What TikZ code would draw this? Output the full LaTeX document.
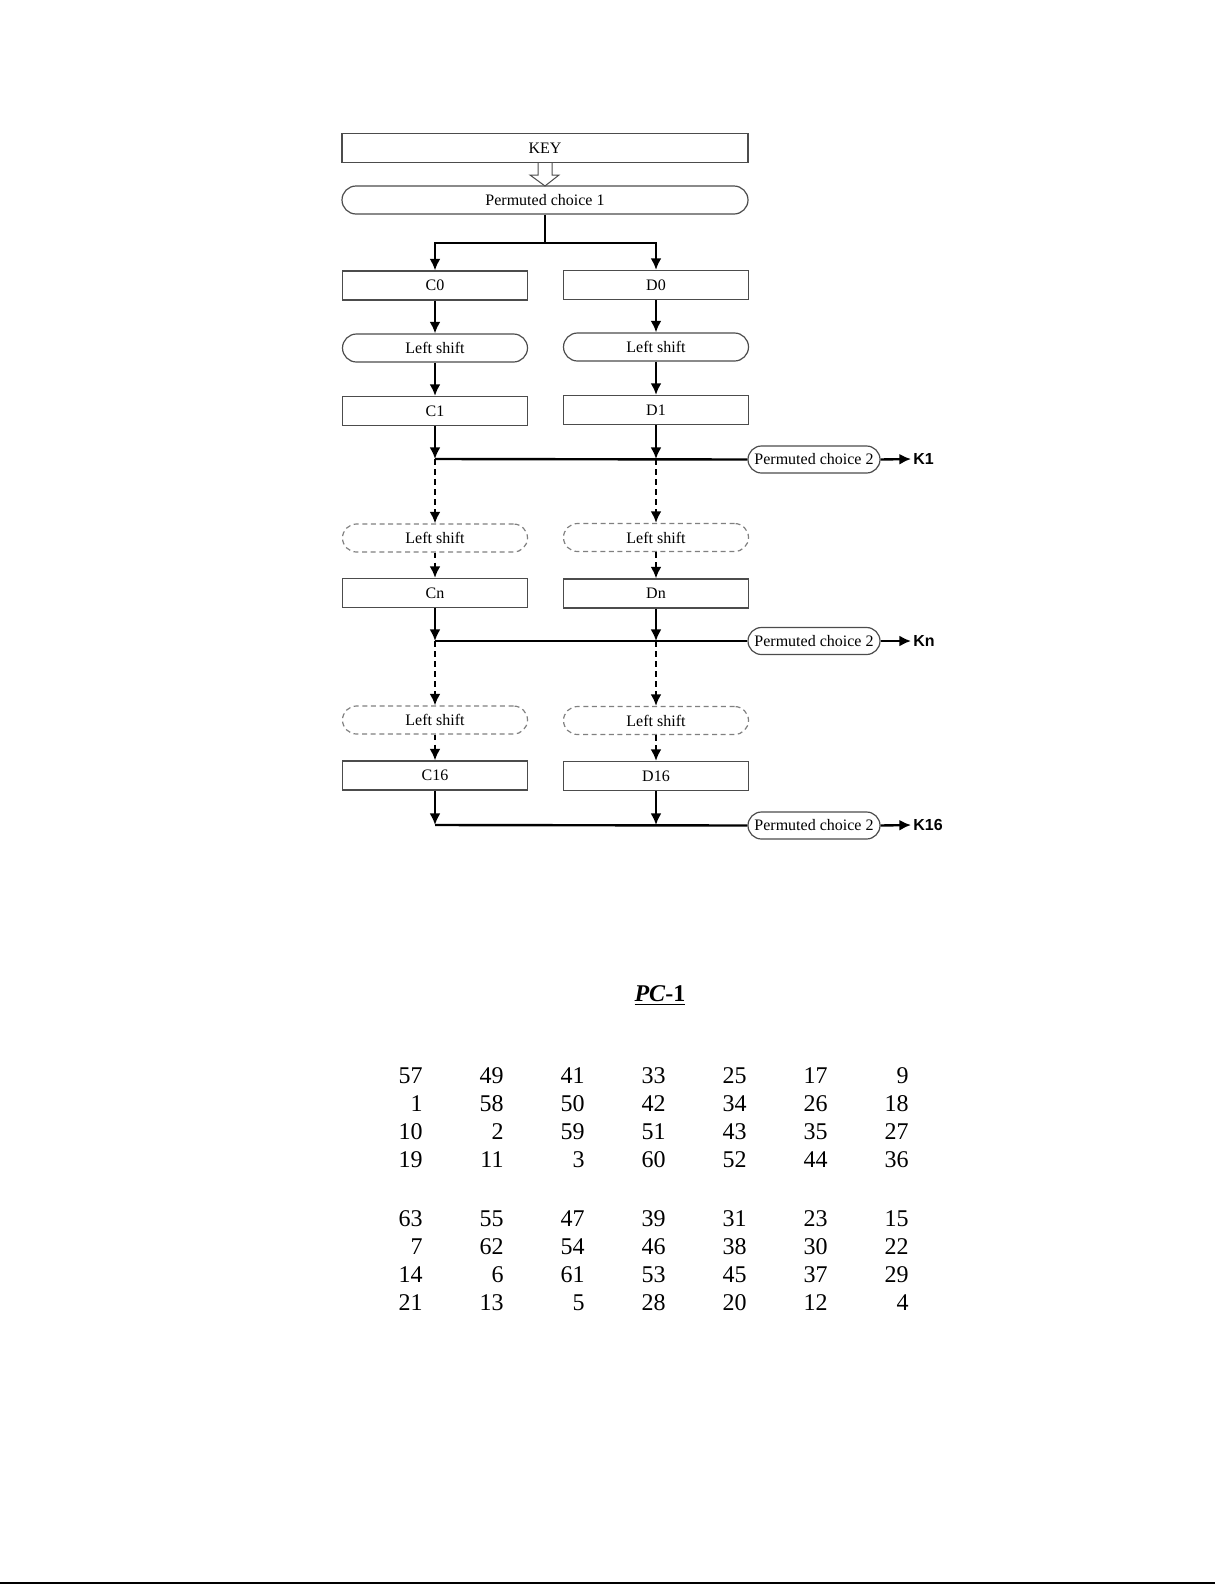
\documentclass[tikz,border=0pt]{standalone}
\usepackage{fontspec}
\setmainfont{Liberation Serif}
\setsansfont{Liberation Sans}
\usepackage{tikz}
\usetikzlibrary{arrows.meta}

\begin{document}
\begin{tikzpicture}[x=0.5pt,y=-0.5pt,
		box/.style={draw=black!70,line width=0.6pt,minimum width=92.5pt,minimum height=14.5pt,inner sep=0pt,font=\fontsize{8}{9}\selectfont},
		roundbox/.style={box,minimum height=14pt,rounded corners=7pt},
		dashbox/.style={roundbox,draw=black!50,dash pattern=on 2.5pt off 1.8pt},
		pcbox/.style={box,minimum width=66pt,minimum height=13.5pt,rounded corners=6.75pt},
		flow/.style={line width=1.2pt,-{Latex[length=5.8pt,width=5.5pt]}},
		dotflow/.style={flow,dash pattern=on 2.8pt off 2.2pt},
		bus/.style={line width=1.2pt},
		klabel/.style={anchor=west,inner sep=1pt,font=\sffamily\bfseries\fontsize{8}{9}\selectfont},
		num/.style={anchor=base east,inner sep=0pt,font=\fontsize{12}{14}\selectfont}]
		\useasboundingbox (0,0) rectangle (1225,1585);
		
		% key schedule
		\node[box,minimum width=203pt] (key) at (545,148) {KEY};
		\node[roundbox,minimum width=203pt] (pc1) at (545,200) {Permuted choice 1};
		\draw[draw=black!70,fill=white,line width=0.5pt] (538,163) -- (538,175) -- (530,175) -- (545,186) -- (559,175) -- (552,175) -- (552,163);
		
		\node[box] (c0) at (435,285.5) {C0};
		\node[box] (d0) at (656,285) {D0};
		\draw[bus] (pc1.south) -- (545,243) coordinate (split);
		\draw[flow] (split) -| (c0.north);
		\draw[flow] (split) -| (d0.north);
		
		\node[roundbox] (lsc1) at (435,348) {Left shift};
		\node[roundbox] (lsd1) at (656,347) {Left shift};
		\node[box] (c1) at (435,411) {C1};
		\node[box] (d1) at (656,410) {D1};
		\draw[flow] (c0) -- (lsc1);
		\draw[flow] (d0) -- (lsd1);
		\draw[flow] (lsc1) -- (c1);
		\draw[flow] (lsd1) -- (d1);
		
		\coordinate (jc1) at (435,459);
		\coordinate (jd1) at (656,459);
		\node[pcbox] (pc2a) at (814,459.5) {Permuted choice 2};
		\node[klabel] (k1) at (911,459) {K1};
		\draw[flow] (c1) -- (jc1);
		\draw[flow] (d1) -- (jd1);
		\draw[bus] (jc1) -- (pc2a.west);
		\draw[flow] (pc2a.east) -- (k1.west);
		
		% n-th round
		\node[dashbox] (lsc2) at (435,538) {Left shift};
		\node[dashbox] (lsd2) at (656,537.5) {Left shift};
		\node[box] (cn) at (435,593) {Cn};
		\node[box] (dn) at (656,593.5) {Dn};
		\draw[dotflow] (jc1) -- (lsc2.north);
		\draw[dotflow] (jd1) -- (lsd2.north);
		\draw[dotflow] (lsc2) -- (cn);
		\draw[dotflow] (lsd2) -- (dn);
		
		\coordinate (jc2) at (435,641);
		\coordinate (jd2) at (656,641);
		\node[pcbox] (pc2b) at (814,641) {Permuted choice 2};
		\node[klabel] (kn) at (911,641) {Kn};
		\draw[flow] (cn) -- (jc2);
		\draw[flow] (dn) -- (jd2);
		\draw[bus] (jc2) -- (pc2b.west);
		\draw[flow] (pc2b.east) -- (kn.west);
		
		% last round
		\node[dashbox] (lsc3) at (435,720) {Left shift};
		\node[dashbox] (lsd3) at (656,720.5) {Left shift};
		\node[box] (c16) at (435,775.5) {C16};
		\node[box] (d16) at (656,776) {D16};
		\draw[dotflow] (jc2) -- (lsc3.north);
		\draw[dotflow] (jd2) -- (lsd3.north);
		\draw[dotflow] (lsc3) -- (c16);
		\draw[dotflow] (lsd3) -- (d16);
		
		\coordinate (jc3) at (435,825);
		\coordinate (jd3) at (656,825);
		\node[pcbox] (pc2c) at (814,825.5) {Permuted choice 2};
		\node[klabel] (k16) at (911,825) {K16};
		\draw[flow] (c16) -- (jc3);
		\draw[flow] (d16) -- (jd3);
		\draw[bus] (jc3) -- (pc2c.west);
		\draw[flow] (pc2c.east) -- (k16.west);
		
		% PC-1 table
		\node[anchor=base,inner sep=0pt,font=\bfseries\fontsize{12}{14}\selectfont] (pctitle) at (660,1001) {\underline{\textit{PC}-1}};
		\foreach \row [count=\r] in {{57,49,41,33,25,17,9},{1,58,50,42,34,26,18},{10,2,59,51,43,35,27},{19,11,3,60,52,44,36},{63,55,47,39,31,23,15},{7,62,54,46,38,30,22},{14,6,61,53,45,37,29},{21,13,5,28,20,12,4}} {
			\pgfmathsetmacro{\yy}{1083+28.3*(\r-1)+(\r>4)*29.8}
			\foreach \v [count=\c] in \row
				\node[num] (t\r-\c) at ({342+81*\c},\yy) {\v};
		}
		
		\draw[line width=1pt] (0,1583) -- (1215,1583);
	\end{tikzpicture}
\end{document}
